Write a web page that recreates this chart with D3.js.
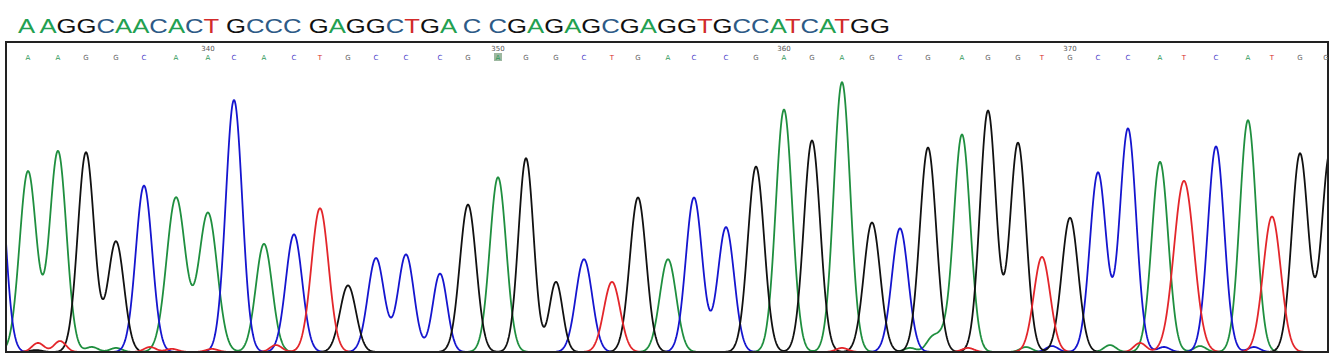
<!DOCTYPE html>
<html>
<head>
<meta charset="utf-8">
<script src="https://cdn.jsdelivr.net/npm/d3@7"></script>
<style>
  body { margin: 0; background: #fff; }
  svg { display: block; }
</style>
</head>
<body>
<div id="chart"></div>
<script>
// base calls under the trace start at position 334
const firstBase = 334;
const baseCalls = "AAGGCAACACTGCCCGAGGCTGACCGAGAGCGAGGTGCCATCATGG".split("");
const headerGroups = ["A", "AGGCAACACT", "GCCC", "GAGGCTGA", "C", "CGAGAGCGAGGTGCCATCATGG"];
const tickLabels = [340, 350, 360, 370];
const highlighted = [350];

// trace peaks: scan number, signal, width; first peak is base 333 (just left of the window)
const peakBase = ["C", ...baseCalls];
const peakScan = [3998, 4014, 4029, 4043, 4058, 4072, 4088, 4104, 4117, 4132, 4147, 4160, 4174, 4188, 4203, 4220,
  4234, 4249, 4263, 4278, 4292, 4306, 4319, 4334, 4347, 4363, 4378, 4392, 4406, 4421, 4436, 4450,
  4464, 4481, 4494, 4509, 4521, 4535, 4549, 4564, 4580, 4592, 4608, 4624, 4636, 4650, 4665];
const peakSignal = [970, 760, 845, 840, 465, 700, 650, 585, 1060, 455, 495, 605, 280, 395, 410, 330,
  620, 735, 815, 295, 390, 295, 650, 390, 650, 525, 780, 1020, 890, 1135, 545, 520,
  860, 915, 1015, 880, 400, 565, 755, 940, 800, 720, 865, 975, 570, 835, 840];
const peakWidth = [4.1, 4.2, 4.2, 4.1, 4.0, 4.1, 4.7, 4.6, 4.1, 4.1, 4.1, 4.3, 4.0, 4.1, 4.0, 3.6,
  4.1, 4.1, 3.8, 3.3, 4.1, 4.1, 4.1, 4.1, 4.1, 4.1, 4.1, 4.1, 4.1, 4.1, 4.1, 4.1,
  4.1, 4.1, 4.0, 4.0, 4.1, 4.1, 4.1, 4.1, 4.1, 5.0, 4.1, 4.1, 4.4, 4.1, 4.1];

// small background bumps
const noiseBase   = ["T", "T", "G", "A", "A", "T", "T", "T", "T", "T", "A", "A", "A", "T", "A", "C", "A", "T", "C", "A", "C"];
const noiseScan   = [4019, 4030, 4018, 4046, 4058, 4075, 4086, 4106, 4138, 4421, 4455, 4466, 4471, 4484, 4513, 4526, 4555, 4570, 4582, 4600, 4627];
const noiseSignal = [38, 46, 8, 21, 17, 21, 13, 13, 29, 17, 17, 55, 46, 17, 21, 25, 29, 38, 21, 25, 21];

const traceColor  = {A: "#1f8f3f", C: "#1515cf", G: "#111111", T: "#e3262b"};
const callColor   = {A: "#2f9a5c", C: "#4a3cc8", G: "#666666", T: "#d62a2a"};
const headColor   = {A: "#22a050", C: "#2d5a86", G: "#111111", T: "#d22b2b"};

const width = 1333, height = 354;
const frame = {left: 6, top: 42, right: 1328, bottom: 352};
const scanRange = [4003, 4664];

const svg = d3.select("#chart").append("svg")
  .attr("width", width).attr("height", height);

// header sequence
const head = svg.append("text")
  .attr("x", 18).attr("y", 33)
  .attr("font-family", "Liberation Sans, Arial, sans-serif")
  .attr("font-size", 21)
  .attr("textLength", 872)
  .attr("lengthAdjust", "spacingAndGlyphs");
headerGroups.forEach((grp, gi) => {
  grp.split("").forEach((ch, ci) => {
    head.append("tspan")
      .attr("fill", headColor[ch])
      .text((gi > 0 && ci === 0 ? " " : "") + ch);
  });
});

const x = d3.scaleLinear().domain(scanRange).range([frame.left, frame.right]);
const y = d3.scaleLinear().domain([0, 1300]).range([frame.bottom, frame.top + 1]);

svg.append("clipPath").attr("id", "clip")
  .append("rect")
  .attr("x", frame.left).attr("y", frame.top)
  .attr("width", frame.right - frame.left).attr("height", frame.bottom - frame.top);

// build channels from the peak list
const peaks = peakScan.map((s, i) => ({base: peakBase[i], scan: s, signal: peakSignal[i], sd: peakWidth[i]}))
  .concat(noiseScan.map((s, i) => ({base: noiseBase[i], scan: s, signal: noiseSignal[i], sd: 3})));

const scans = d3.range(scanRange[0] - 2, scanRange[1] + 2, 0.25);
const channels = ["A", "C", "G", "T"].map(b => {
  const list = peaks.filter(p => p.base === b);
  return {
    base: b,
    values: scans.map(s => [s, d3.sum(list, p => p.signal * Math.exp(-((s - p.scan) ** 2) / (2 * p.sd * p.sd)))])
  };
});

const line = d3.line().x(d => x(d[0])).y(d => y(d[1]));

svg.append("g").attr("clip-path", "url(#clip)")
  .selectAll("path")
  .data(channels)
  .join("path")
  .attr("d", d => line(d.values))
  .attr("fill", "none")
  .attr("stroke", d => traceColor[d.base])
  .attr("stroke-width", 1.8)
  .attr("stroke-linejoin", "round");

// frame
svg.append("rect")
  .attr("x", frame.left).attr("y", frame.top)
  .attr("width", frame.right - frame.left).attr("height", frame.bottom - frame.top)
  .attr("fill", "none").attr("stroke", "#222").attr("stroke-width", 2);

// base calls + position labels
const calls = baseCalls.map((b, i) => ({base: b, pos: firstBase + i, scan: peakScan[i + 1]}));

const callG = svg.append("g").attr("clip-path", "url(#clip)");
callG.selectAll("rect.hl")
  .data(calls.filter(d => highlighted.includes(d.pos)))
  .join("rect")
  .attr("class", "hl")
  .attr("x", d => x(d.scan) - 4).attr("y", 53)
  .attr("width", 8).attr("height", 8)
  .attr("fill", "#9db8a0");

callG.selectAll("text.call")
  .data(calls)
  .join("text")
  .attr("class", "call")
  .attr("x", d => Math.min(x(d.scan), frame.right - 2)).attr("y", 60)
  .attr("text-anchor", "middle")
  .attr("font-family", "DejaVu Sans, sans-serif")
  .attr("font-size", 7)
  .attr("fill", d => callColor[d.base])
  .text(d => d.base);

callG.selectAll("text.tick")
  .data(calls.filter(d => tickLabels.includes(d.pos)))
  .join("text")
  .attr("class", "tick")
  .attr("x", d => x(d.scan)).attr("y", 51)
  .attr("text-anchor", "middle")
  .attr("font-family", "DejaVu Sans, sans-serif")
  .attr("font-size", 7)
  .attr("fill", "#555")
  .text(d => d.pos);
</script>
</body>
</html>
